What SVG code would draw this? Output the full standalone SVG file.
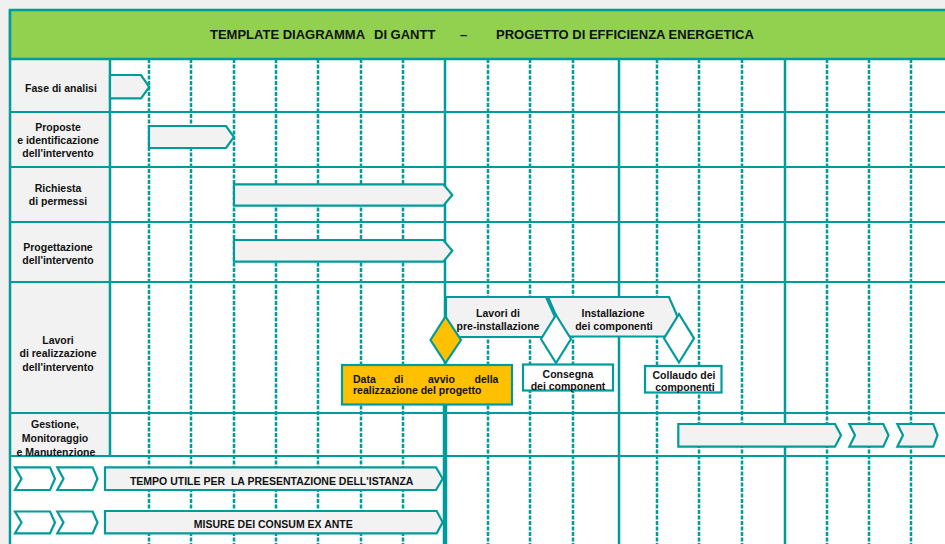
<svg xmlns="http://www.w3.org/2000/svg" width="945" height="544" viewBox="0 0 945 544">
<style>
.gd{stroke:#009b9b;stroke-width:2.5;stroke-dasharray:4 1.5;fill:none}
.gs{stroke:#009b9b;stroke-width:2.5;fill:none}
.hl{stroke:#009b9b;stroke-width:2;fill:none}
.bar{fill:#f2f2f2;stroke:#009b9b;stroke-width:2.2;stroke-linejoin:miter}
.wh{fill:#ffffff;stroke:#009b9b;stroke-width:2.2}
.gold{fill:#ffc000;stroke:#009b9b;stroke-width:2.2}
text{font-family:"Liberation Sans",Arial,sans-serif;font-weight:bold;fill:#111111}
.t{font-size:10.5px;text-anchor:middle}
.l{font-size:10.5px}
.title{font-size:13px}
</style>
<rect x="0" y="0" width="945" height="544" fill="#f0f0f0"/>
<rect x="10" y="59" width="935" height="485" fill="#ffffff"/>
<rect x="10" y="59" width="100" height="397" fill="#f2f2f2"/>
<g id="grid">
<path class="gd" d="M149,59V544M191,59V544M234,59V544M276,59V544M318,59V544M361,59V544M403,59V544M488,59V544M530,59V544M573,59V544M657,59V544M699,59V544M742,59V544M827,59V544M869,59V544M911,59V544"/>
<path class="gs" d="M445,59V544M619,59V544M785,59V544"/>
<path class="hl" d="M10,112H945M10,167H945M10,222H945M10,282H945M10,413H945M10,456H945"/>
<path class="gs" d="M10,10V544M110,59V456"/>
</g>
<g id="header">
<rect x="10" y="10" width="940" height="49" fill="#92d050" stroke="#009b9b" stroke-width="2.5"/>
<text class="title" y="39"><tspan x="210">TEMPLATE DIAGRAMMA</tspan><tspan x="374">DI GANTT</tspan><tspan x="460">–</tspan><tspan x="496">PROGETTO DI EFFICIENZA ENERGETICA</tspan></text>
</g>
<g id="labels">
<text class="t" x="61" y="92">Fase di analisi</text>
<text class="t" x="58" y="130.5">Proposte<tspan x="58" y="143.5">e identificazione</tspan><tspan x="58" y="156.5">dell'intervento</tspan></text>
<text class="t" x="58" y="192">Richiesta<tspan x="58" y="205">di permessi</tspan></text>
<text class="t" x="58" y="250.5">Progettazione<tspan x="58" y="263.5">dell'intervento</tspan></text>
<text class="t" x="58" y="344">Lavori<tspan x="58" y="357">di realizzazione</tspan><tspan x="58" y="370.5">dell'intervento</tspan></text>
<text class="t" x="55" y="428">Gestione,<tspan x="55" y="442">Monitoraggio</tspan><tspan x="56" y="455.5">e Manutenzione</tspan></text>
</g>
<g id="connectors">
<path d="M445,404V544" stroke="#009b9b" stroke-width="4.5"/>
</g>
<g id="fase-analisi"><path class="bar" d="M110,75H141L149.3,87L141,98.3H110Z"/></g>
<g id="proposte"><path class="bar" d="M149,126H226L234,137L226,148H149Z"/></g>
<g id="richiesta"><path class="bar" d="M234,184.3H443.3L452.3,195L443.3,205.7H234Z"/></g>
<g id="progettazione"><path class="bar" d="M234,240H443.3L452.3,250.8L443.3,261.7H234Z"/></g>
<g id="pre-installazione">
<path class="bar" d="M446,297H546L555,317L546,337H446Z"/>
<text class="t" x="498" y="316.5">Lavori di<tspan x="498" y="329.5">pre-installazione</tspan></text>
</g>
<g id="installazione">
<path class="bar" d="M548,297H669L677.5,316.5L669,336.5H548L556.5,316.5Z"/>
<text class="t" x="613" y="316.5">Installazione<tspan x="614" y="329.5">dei componenti</tspan></text>
</g>
<g id="milestone-avvio"><path class="gold" d="M445.5,316.5L461,340L445.5,363L430.5,340Z"/></g>
<g id="milestone-consegna"><path class="wh" d="M556,315L571,339L556,363L541,339Z"/></g>
<g id="milestone-collaudo"><path class="wh" d="M679,314L694,338.3L679,362.5L664,338.3Z"/></g>
<g id="box-avvio">
<rect class="gold" x="342" y="365" width="170" height="39.5"/>
<text class="l" y="382.5"><tspan x="353">Data</tspan><tspan x="394">di</tspan><tspan x="428">avvio</tspan><tspan x="474.5">della</tspan><tspan x="353" y="393.5">realizzazione del progetto</tspan></text>
</g>
<g id="box-consegna">
<rect class="wh" x="523" y="364.5" width="90" height="26"/>
<text class="t" x="568" y="378">Consegna<tspan x="568" y="389.5">dei component</tspan></text>
</g>
<g id="box-collaudo">
<rect class="wh" x="645" y="366" width="76.5" height="26.5"/>
<text class="t" x="684" y="378.5">Collaudo dei<tspan x="685" y="391">componenti</tspan></text>
</g>
<g id="gestione">
<path class="bar" d="M678.3,424H835L841,435.3L835,446.7H678.3Z"/>
<path class="bar" d="M849.3,424H883.3L888.5,435.3L883.3,446.7H849.3L855,435.3Z"/>
<path class="bar" d="M897.3,424H933.3L937.5,435.3L933.3,446.7H897.3L903,435.3Z"/>
</g>
<g id="chevrons-tempo">
<path class="wh" d="M15,467.3H50L55,478.7L50,490H15L21.5,478.7Z"/>
<path class="wh" d="M57.3,467.3H92.7L97.5,478.7L92.7,490H57.3L63.5,478.7Z"/>
</g>
<g id="tempo-utile">
<path class="bar" d="M105,467.3H436L442.7,478.7L436,490H105Z"/>
<text class="t" x="271.7" y="485" xml:space="preserve">TEMPO UTILE PER  LA PRESENTAZIONE DELL'ISTANZA</text>
</g>
<g id="chevrons-misure">
<path class="wh" d="M15,511.5H50L55,522.5L50,533.3H15L21.5,522.5Z"/>
<path class="wh" d="M57.3,511.5H92.7L97.5,522.5L92.7,533.3H57.3L63.5,522.5Z"/>
</g>
<g id="misure">
<path class="bar" d="M105,511H436.7L442.7,522.3L436.7,533.3H105Z"/>
<text class="t" x="273.3" y="528">MISURE DEI CONSUM EX ANTE</text>
</g>
</svg>
